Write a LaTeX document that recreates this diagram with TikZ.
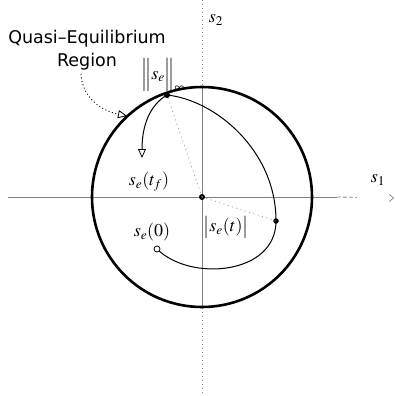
\documentclass[tikz,border=0pt]{standalone}
\usepackage{mathptmx}
\usepackage{fontspec}
\setmainfont{Liberation Serif}
\newfontfamily\qfont{DejaVu Sans}
\usetikzlibrary{arrows.meta}
\begin{document}
\begin{tikzpicture}[x=1pt,y=-1pt,
  axis/.style={draw=black!50, line width=0.8pt},
  axisdot/.style={draw=black!45, line width=0.8pt, dash pattern=on 1pt off 3pt},
  bound/.style={line width=2.6pt},
  traj/.style={line width=1pt},
  guide/.style={draw=black!35, line width=0.9pt, dash pattern=on 1pt off 3.5pt},
  dotpt/.style={circle, fill=black, inner sep=0pt, minimum size=6pt},
  lbl/.style={inner sep=0pt, font=\fontsize{18}{20}\selectfont}
]
\useasboundingbox (0,0) rectangle (395,396);
% axes
\coordinate (hl) at (8,197);
\coordinate (hm) at (337,197);
\coordinate (hr) at (394,198);
\coordinate (vt) at (202,0);
\coordinate (vu) at (202,87);
\coordinate (vd) at (202,308);
\coordinate (vb) at (202,393);
\draw[axis] (hl) -- (hm);
\draw[axis, dash pattern=on 4pt off 2pt on 4pt off 2pt on 4pt off 2pt on 2pt off 40pt,
  -{Straight Barb[length=4pt,width=7pt,line width=0.7pt]}] (hm) -- (hr);
\draw[axisdot] (vt) -- (vu);
\draw[axis] (vu) -- (vd);
\draw[axisdot] (vd) -- (vb);
% boundary circle
\node[dotpt] (O) at (202,197) {};
\draw[bound] (O.center) circle[radius=110pt];
% points
\node[dotpt] (top) at (167,95) {};
\node[dotpt, minimum size=5.5pt] (st) at (276,221) {};
\coordinate (tf) at (142,158);
% guides
\draw[guide] (O.center) -- (st.center);
\draw[guide] (O.center) -- (top.center);
% trajectory
\draw[traj] (157,249) coordinate (p0) .. controls (190,282) and (276,275) .. (st.center);
\draw[traj] (st.center) .. controls (276,150) and (215,100) .. (top.center);
\draw[traj, -{Triangle[open, length=9pt, width=8pt, line width=0.8pt]}]
  (top.center) .. controls (150,105) and (142,125) .. (tf);
\node[circle, draw, fill=white, line width=0.8pt, inner sep=0pt, minimum size=6pt] (s0) at (p0) {};
% quasi-equilibrium annotation
\node[inner sep=0pt, align=center, font=\qfont\fontsize{17.5}{23}\selectfont] (q) at (87,50)
  {Quasi–Equilibrium\\Region};
\coordinate (qs) at (81,74);
\coordinate (qe) at (127,116);
\draw[line width=0.9pt, dash pattern=on 1pt off 2.5pt,
  -{Triangle[open, length=9pt, width=8pt, line width=0.8pt]}]
  (qs) .. controls (82,95) and (98,110) .. (qe);
% labels
\node[lbl] (l2) at (216,20) {$s_2$};
\node[lbl] (l1) at (378,180) {$s_1$};
\node[lbl] (ln) at (163,75) {$\Big\| s_e \Big\|_{\infty}$};
\node[lbl] (ltf) at (149,182) {$s_e(t_f)$};
\node[lbl] (lt) at (226,227) {$\big| s_e(t) \big|$};
\node[lbl] (l0) at (152,232) {$s_e(0)$};
\end{tikzpicture}
\end{document}
